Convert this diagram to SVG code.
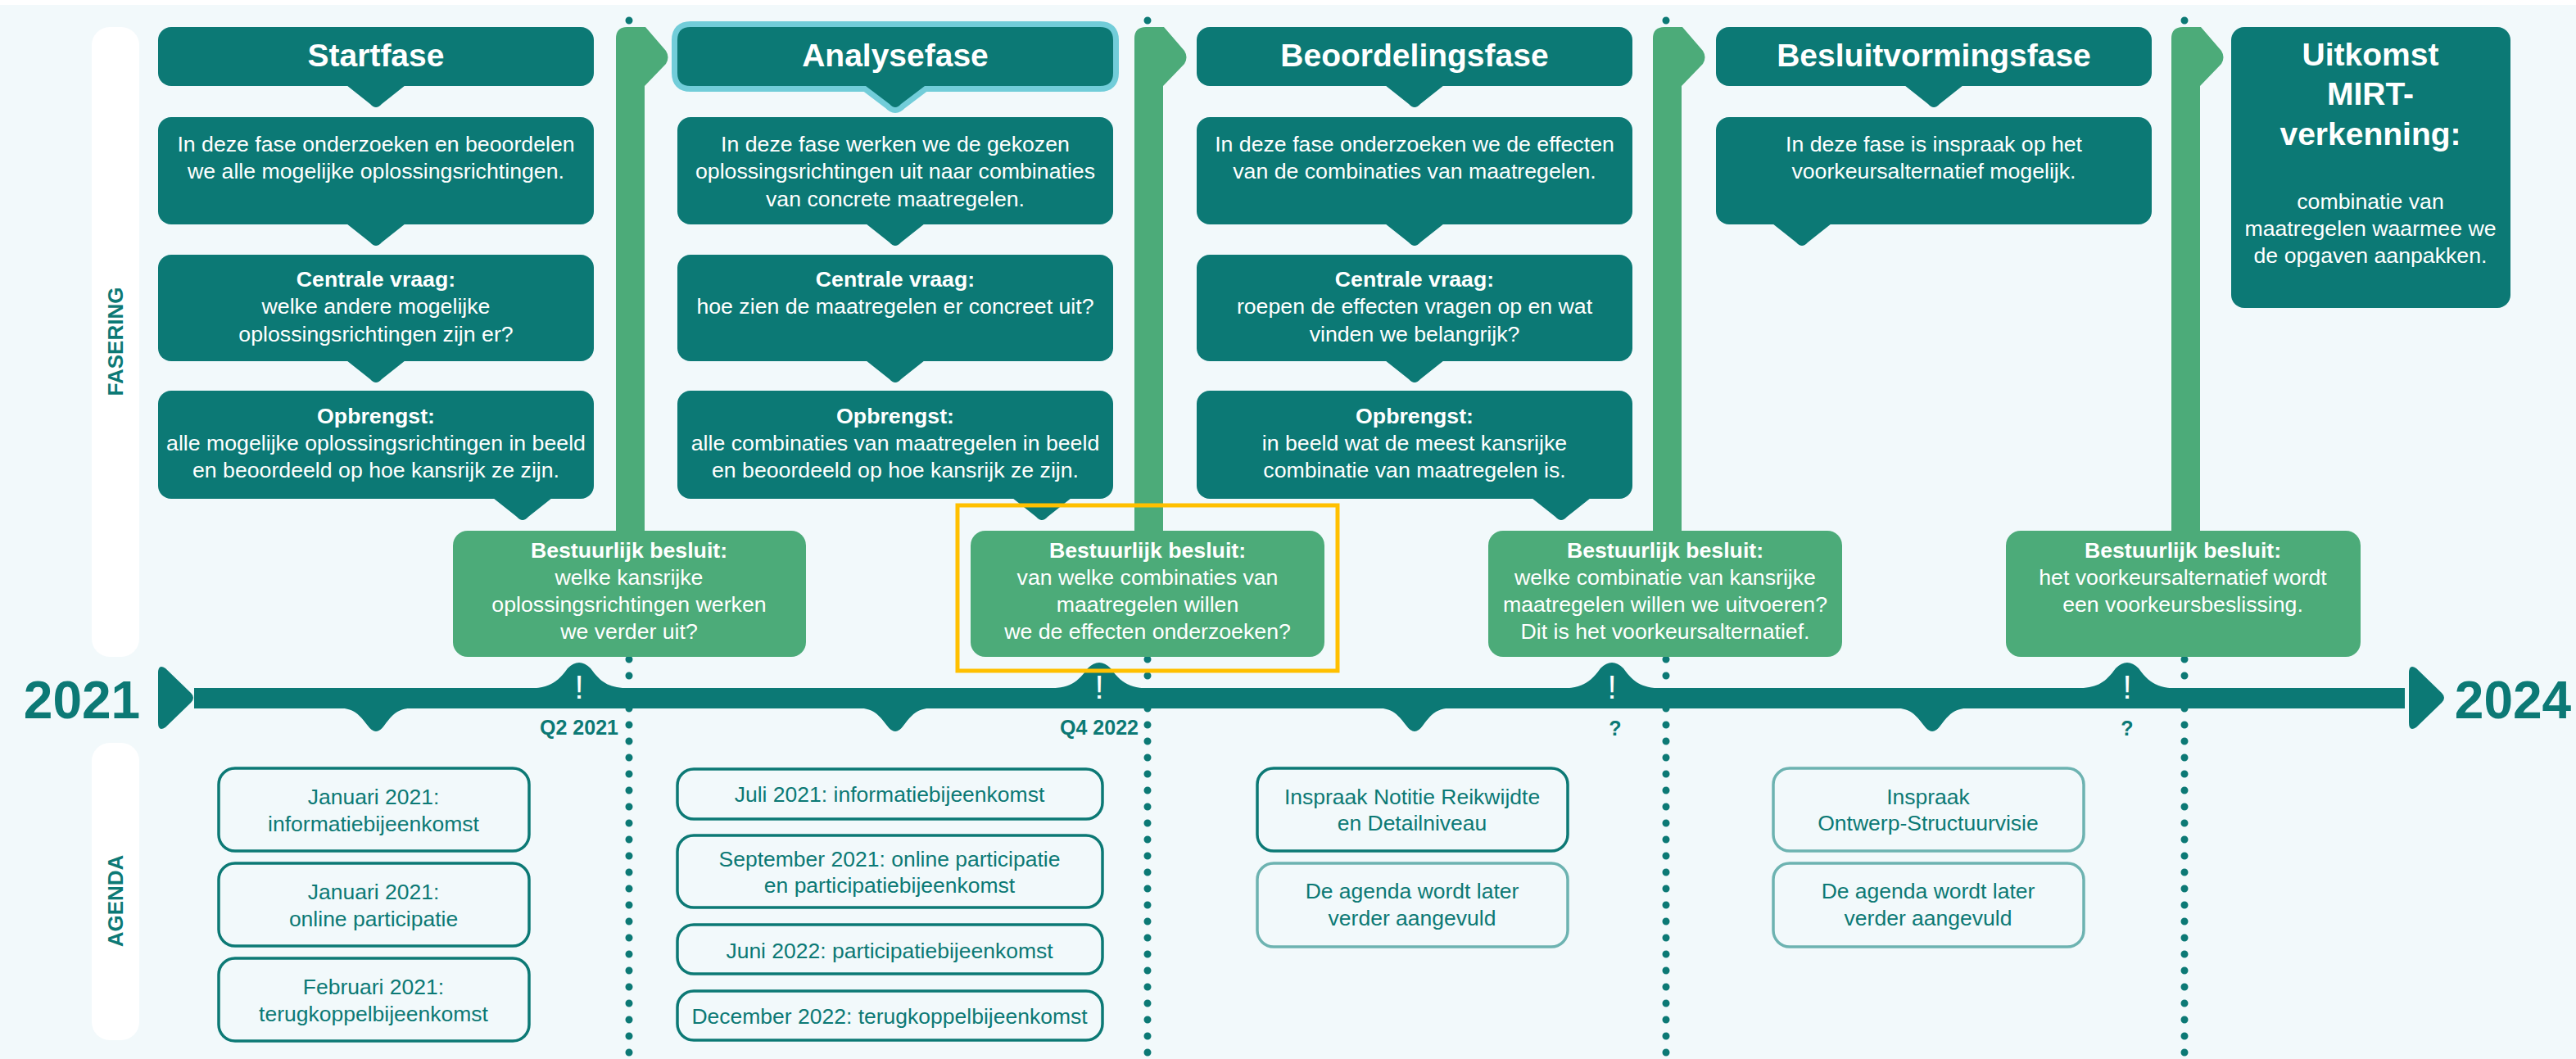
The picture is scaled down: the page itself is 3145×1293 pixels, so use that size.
<svg xmlns="http://www.w3.org/2000/svg" width="3145" height="1293" viewBox="0 0 3145 1293">
<style>
text{font-family:"Liberation Sans",Arial,Helvetica,sans-serif;text-anchor:middle}
.d{fill:#0c7975}
.g{fill:#4cab79}
.w{fill:#fff;font-size:26.7px}
.b{font-weight:bold}
.h{fill:#fff;font-size:39px;font-weight:bold}
.t{fill:#0c7975;font-size:26.5px}
.lbl{fill:#0c7975;font-size:26px;font-weight:bold}
.q{fill:#0c7975;font-size:25px;font-weight:bold}
.ex{fill:#fff;font-size:40px}
.yr{fill:#0c7975;font-size:64px;font-weight:bold}
.ag{fill:none;stroke:#0c7975;stroke-width:3.5}
.agl{fill:none;stroke:#6db3b1;stroke-width:3.5}
.dot{stroke:#0c7975;stroke-width:9;stroke-linecap:round;stroke-dasharray:0 20;fill:none}
.side{fill:#ffffff}
</style>
<rect x="0" y="0" width="3145" height="1293" fill="#ffffff"/>
<rect x="0" y="6" width="3145" height="1287" fill="#f2f9fb"/>

<g id="labels">
<rect class="side" x="112" y="33" width="58" height="769" rx="22"/>
<rect class="side" x="112" y="907" width="58" height="363" rx="22"/>
<text class="lbl" transform="translate(150,417) rotate(-90)">FASERING</text>
<text class="lbl" transform="translate(150,1100) rotate(-90)">AGENDA</text>
</g>

<g id="connectors">
<line class="dot" x1="768" y1="25" x2="768" y2="1290"/>
<line class="dot" x1="1401" y1="25" x2="1401" y2="1290"/>
<line class="dot" x1="2034" y1="25" x2="2034" y2="1290"/>
<line class="dot" x1="2667" y1="25" x2="2667" y2="1290"/>
<path class="g" d="M752,648 V47 Q752,33 766,33 H788 L813,62 Q818,70 813,78 L787,105 V648 Z"/>
<path class="g" d="M1385,648 V47 Q1385,33 1399,33 H1421 L1446,62 Q1451,70 1446,78 L1420,105 V648 Z"/>
<path class="g" d="M2018,648 V47 Q2018,33 2032,33 H2054 L2079,62 Q2084,70 2079,78 L2053,105 V648 Z"/>
<path class="g" d="M2651,648 V47 Q2651,33 2665,33 H2687 L2712,62 Q2717,70 2712,78 L2686,105 V648 Z"/>
</g>

<g id="timeline">
<rect class="d" x="237" y="840" width="2699" height="25"/>
<path class="d" d="M193,822 Q193,810 202,816 L233,846 Q239,852 233,858 L202,888 Q193,894 193,882 Z"/>
<path class="d" d="M2941,822 Q2941,810 2950,816 L2981,846 Q2987,852 2981,858 L2950,888 Q2941,894 2941,882 Z"/>
<path class="d" d="M629,841 C667,841 677,838 693,816 Q707,802 721,816 C737,838 747,841 785,841 Z"/>
<path class="d" d="M1264,841 C1302,841 1312,838 1328,816 Q1342,802 1356,816 C1372,838 1382,841 1420,841 Z"/>
<path class="d" d="M1890,841 C1928,841 1938,838 1954,816 Q1968,802 1982,816 C1998,838 2008,841 2046,841 Z"/>
<path class="d" d="M2519,841 C2557,841 2567,838 2583,816 Q2597,802 2611,816 C2627,838 2637,841 2675,841 Z"/>
<path class="d" d="M399,864 C429,864 434,866 449,886 Q459,900 469,886 C484,866 489,864 519,864 Z"/>
<path class="d" d="M1033,864 C1063,864 1068,866 1083,886 Q1093,900 1103,886 C1118,866 1123,864 1153,864 Z"/>
<path class="d" d="M1667,864 C1697,864 1702,866 1717,886 Q1727,900 1737,886 C1752,866 1757,864 1787,864 Z"/>
<path class="d" d="M2299,864 C2329,864 2334,866 2349,886 Q2359,900 2369,886 C2384,866 2389,864 2419,864 Z"/>
<text class="ex" x="707" y="853">!</text>
<text class="ex" x="1342" y="853">!</text>
<text class="ex" x="1968" y="853">!</text>
<text class="ex" x="2597" y="853">!</text>
<text class="q" x="755" y="897" style="text-anchor:end">Q2 2021</text>
<text class="q" x="1390" y="897" style="text-anchor:end">Q4 2022</text>
<text class="q" x="1972" y="898">?</text>
<text class="q" x="2597" y="898">?</text>
<text class="yr" x="100" y="877">2021</text>
<text class="yr" x="3068" y="877">2024</text>
</g>

<g id="startfase">
<rect class="d" x="193" y="33" width="532" height="72" rx="16"/>
<path class="d" d="M423,104 H495 L466,127 Q459,135 452,127 Z"/>
<text class="h" x="459" y="81">Startfase</text>
<rect class="d" x="193" y="143" width="532" height="131" rx="16"/>
<path class="d" d="M423,273 H495 L466,296 Q459,304 452,296 Z"/>
<text class="w" x="459" y="185">In deze fase onderzoeken en beoordelen</text>
<text class="w" x="459" y="218">we alle mogelijke oplossingsrichtingen.</text>
<rect class="d" x="193" y="311" width="532" height="130" rx="16"/>
<path class="d" d="M423,440 H495 L466,463 Q459,471 452,463 Z"/>
<text class="w b" x="459" y="350">Centrale vraag:</text>
<text class="w" x="459" y="383">welke andere mogelijke</text>
<text class="w" x="459" y="417">oplossingsrichtingen zijn er?</text>
<rect class="d" x="193" y="477" width="532" height="132" rx="16"/>
<path class="d" d="M602,608 H674 L645,631 Q638,639 631,631 Z"/>
<text class="w b" x="459" y="517">Opbrengst:</text>
<text class="w" x="459" y="550">alle mogelijke oplossingsrichtingen in beeld</text>
<text class="w" x="459" y="583">en beoordeeld op hoe kansrijk ze zijn.</text>
</g>

<g id="analysefase">
<path class="d" stroke="#72cdd9" stroke-width="14" stroke-linejoin="round" paint-order="stroke" d="M843,33 H1343 Q1359,33 1359,49 V89 Q1359,105 1343,105 H1129 L1100,127 Q1093,135 1086,127 L1057,105 H843 Q827,105 827,89 V49 Q827,33 843,33 Z"/>
<text class="h" x="1093" y="81">Analysefase</text>
<rect class="d" x="827" y="143" width="532" height="131" rx="16"/>
<path class="d" d="M1057,273 H1129 L1100,296 Q1093,304 1086,296 Z"/>
<text class="w" x="1093" y="185">In deze fase werken we de gekozen</text>
<text class="w" x="1093" y="218">oplossingsrichtingen uit naar combinaties</text>
<text class="w" x="1093" y="252">van concrete maatregelen.</text>
<rect class="d" x="827" y="311" width="532" height="130" rx="16"/>
<path class="d" d="M1057,440 H1129 L1100,463 Q1093,471 1086,463 Z"/>
<text class="w b" x="1093" y="350">Centrale vraag:</text>
<text class="w" x="1093" y="383">hoe zien de maatregelen er concreet uit?</text>
<rect class="d" x="827" y="477" width="532" height="132" rx="16"/>
<path class="d" d="M1236,608 H1308 L1279,631 Q1272,639 1265,631 Z"/>
<text class="w b" x="1093" y="517">Opbrengst:</text>
<text class="w" x="1093" y="550">alle combinaties van maatregelen in beeld</text>
<text class="w" x="1093" y="583">en beoordeeld op hoe kansrijk ze zijn.</text>
</g>

<g id="beoordelingsfase">
<rect class="d" x="1461" y="33" width="532" height="72" rx="16"/>
<path class="d" d="M1691,104 H1763 L1734,127 Q1727,135 1720,127 Z"/>
<text class="h" x="1727" y="81">Beoordelingsfase</text>
<rect class="d" x="1461" y="143" width="532" height="131" rx="16"/>
<path class="d" d="M1691,273 H1763 L1734,296 Q1727,304 1720,296 Z"/>
<text class="w" x="1727" y="185">In deze fase onderzoeken we de effecten</text>
<text class="w" x="1727" y="218">van de combinaties van maatregelen.</text>
<rect class="d" x="1461" y="311" width="532" height="130" rx="16"/>
<path class="d" d="M1691,440 H1763 L1734,463 Q1727,471 1720,463 Z"/>
<text class="w b" x="1727" y="350">Centrale vraag:</text>
<text class="w" x="1727" y="383">roepen de effecten vragen op en wat</text>
<text class="w" x="1727" y="417">vinden we belangrijk?</text>
<rect class="d" x="1461" y="477" width="532" height="132" rx="16"/>
<path class="d" d="M1870,608 H1942 L1913,631 Q1906,639 1899,631 Z"/>
<text class="w b" x="1727" y="517">Opbrengst:</text>
<text class="w" x="1727" y="550">in beeld wat de meest kansrijke</text>
<text class="w" x="1727" y="583">combinatie van maatregelen is.</text>
</g>

<g id="besluitvormingsfase">
<rect class="d" x="2095" y="33" width="532" height="72" rx="16"/>
<path class="d" d="M2325,104 H2397 L2368,127 Q2361,135 2354,127 Z"/>
<text class="h" x="2361" y="81">Besluitvormingsfase</text>
<rect class="d" x="2095" y="143" width="532" height="131" rx="16"/>
<path class="d" d="M2164,273 H2236 L2207,296 Q2200,304 2193,296 Z"/>
<text class="w" x="2361" y="185">In deze fase is inspraak op het</text>
<text class="w" x="2361" y="218">voorkeursalternatief mogelijk.</text>
</g>

<g id="uitkomst">
<rect class="d" x="2724" y="33" width="341" height="343" rx="16"/>
<text class="h" x="2894" y="80">Uitkomst</text>
<text class="h" x="2894" y="128">MIRT-</text>
<text class="h" x="2894" y="177">verkenning:</text>
<text class="w" x="2894" y="255">combinatie van</text>
<text class="w" x="2894" y="288">maatregelen waarmee we</text>
<text class="w" x="2894" y="321">de opgaven aanpakken.</text>
</g>

<g id="besluit1">
<rect class="g" x="553" y="648" width="431" height="154" rx="18"/>
<text class="w b" x="768" y="681">Bestuurlijk besluit:</text>
<text class="w" x="768" y="714">welke kansrijke</text>
<text class="w" x="768" y="747">oplossingsrichtingen werken</text>
<text class="w" x="768" y="780">we verder uit?</text>
</g>
<g id="besluit2">
<rect class="g" x="1185" y="648" width="432" height="154" rx="18"/>
<text class="w b" x="1401" y="681">Bestuurlijk besluit:</text>
<text class="w" x="1401" y="714">van welke combinaties van</text>
<text class="w" x="1401" y="747">maatregelen willen</text>
<text class="w" x="1401" y="780">we de effecten onderzoeken?</text>
</g>
<g id="besluit3">
<rect class="g" x="1817" y="648" width="432" height="154" rx="18"/>
<text class="w b" x="2033" y="681">Bestuurlijk besluit:</text>
<text class="w" x="2033" y="714">welke combinatie van kansrijke</text>
<text class="w" x="2033" y="747">maatregelen willen we uitvoeren?</text>
<text class="w" x="2033" y="780">Dit is het voorkeursalternatief.</text>
</g>
<g id="besluit4">
<rect class="g" x="2449" y="648" width="433" height="154" rx="18"/>
<text class="w b" x="2665" y="681">Bestuurlijk besluit:</text>
<text class="w" x="2665" y="714">het voorkeursalternatief wordt</text>
<text class="w" x="2665" y="747">een voorkeursbeslissing.</text>
</g>

<g id="agenda1">
<rect class="ag" x="267" y="938" width="379" height="101" rx="20"/>
<text class="t" x="456" y="982">Januari 2021:</text>
<text class="t" x="456" y="1015">informatiebijeenkomst</text>
<rect class="ag" x="267" y="1054" width="379" height="101" rx="20"/>
<text class="t" x="456" y="1098">Januari 2021:</text>
<text class="t" x="456" y="1131">online participatie</text>
<rect class="ag" x="267" y="1170" width="379" height="101" rx="20"/>
<text class="t" x="456" y="1214">Februari 2021:</text>
<text class="t" x="456" y="1247">terugkoppelbijeenkomst</text>
</g>
<g id="agenda2">
<rect class="ag" x="827" y="939" width="519" height="61" rx="20"/>
<text class="t" x="1086" y="979">Juli 2021: informatiebijeenkomst</text>
<rect class="ag" x="827" y="1020" width="519" height="88" rx="20"/>
<text class="t" x="1086" y="1058">September 2021: online participatie</text>
<text class="t" x="1086" y="1090">en participatiebijeenkomst</text>
<rect class="ag" x="827" y="1129" width="519" height="60" rx="20"/>
<text class="t" x="1086" y="1170">Juni 2022: participatiebijeenkomst</text>
<rect class="ag" x="827" y="1210" width="519" height="60" rx="20"/>
<text class="t" x="1086" y="1250">December 2022: terugkoppelbijeenkomst</text>
</g>
<g id="agenda3">
<rect class="ag" x="1535" y="938" width="379" height="101" rx="20"/>
<text class="t" x="1724" y="982">Inspraak Notitie Reikwijdte</text>
<text class="t" x="1724" y="1014">en Detailniveau</text>
<rect class="agl" x="1535" y="1054" width="379" height="102" rx="20"/>
<text class="t" x="1724" y="1097">De agenda wordt later</text>
<text class="t" x="1724" y="1130">verder aangevuld</text>
</g>
<g id="agenda4">
<rect class="agl" x="2165" y="938" width="379" height="101" rx="20"/>
<text class="t" x="2354" y="982">Inspraak</text>
<text class="t" x="2354" y="1014">Ontwerp-Structuurvisie</text>
<rect class="agl" x="2165" y="1054" width="379" height="102" rx="20"/>
<text class="t" x="2354" y="1097">De agenda wordt later</text>
<text class="t" x="2354" y="1130">verder aangevuld</text>
</g>

<g id="highlight">
<rect x="1169" y="617" width="464" height="202" fill="none" stroke="#ffc000" stroke-width="5"/>
</g>
</svg>
